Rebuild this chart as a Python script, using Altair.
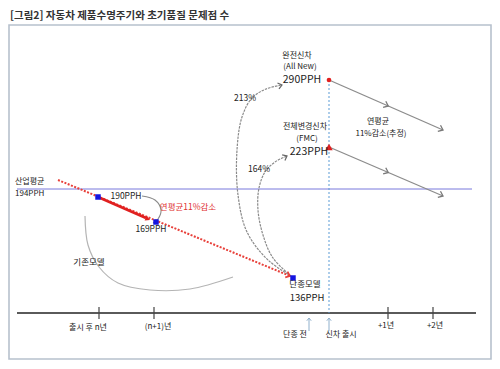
import math
import altair as alt
import pandas as pd

# ---- canvas (chart units equal pixels of the 500x369 reference) ----
W, H = 484, 350
X0, Y0 = 8, 8
FONT = "Noto Sans CJK KR"

TITLE = "[그림2] 자동차 제품수명주기와 초기품질 문제점 수"

FRAME_X = [9, 491]
FRAME_Y = [25, 359]

AXIS_X = [17, 476]
AXIS_Y = 313
TICK_X = [99, 154, 388, 433]
TICK_Y = [307, 319]

AVG_X = [17, 472]
AVG_Y = 189

LAUNCH_X = 329
LAUNCH_Y = [80, 313]

TREND_X = [58, 290]
TREND_Y = [180, 276]

DROP_X = [98, 150]
DROP_Y = [197, 220]

SQUARE_X = [98, 156, 293]
SQUARE_Y = [197, 222, 278]

ALLNEW_PT = (329, 80)
FMC_PT = (329, 147)

PROJ1_X = [329, 443]
PROJ1_Y = [80, 130]
PROJ2_X = [329, 443]
PROJ2_Y = [147, 196]

UPARROW_X = [309, 329]
UPARROW_Y = [331, 318]

# curves
ARC213_X = [291, 268, 247, 238, 237, 242, 252, 266, 282]
ARC213_Y = [276, 260, 232, 195, 150, 117, 98, 89, 85]
ARC164_X = [291, 273, 263, 258, 259, 265, 275, 287]
ARC164_Y = [276, 258, 235, 210, 188, 172, 162, 156]
OLD_X = [85, 88, 99, 118, 150, 190, 233]
OLD_Y = [216, 245, 267, 283, 290, 289, 277]
LOOP_X = [142, 155, 161, 158, 153]
LOOP_Y = [196, 200, 210, 219, 223]

# labels
LBL_TEXT = ["산업평균", "194PPH", "190PPH", "169PPH", "기존모델", "단종모델", "136PPH",
            "완전신차", "(All New)", "290PPH", "전체변경신차", "(FMC)", "223PPH",
            "213%", "164%", "연평균", "11%감소(추정)",
            "출시 후 n년", "(n+1)년", "단종 전", "신차 출시", "+1년", "+2년"]
LBL_X = [15, 15, 126, 151, 89, 305, 307,
         297, 300, 302, 305, 307, 309,
         245, 259, 378, 381,
         88, 158, 295, 341, 386, 435]
LBL_Y = [182, 194, 196, 229, 262, 284, 298,
         56, 67, 80, 127, 139, 152,
         98, 169, 122, 134,
         328, 327, 335, 335, 326, 326]
LBL_SIZE = [8, 8, 8.5, 8.5, 8.5, 8.5, 9.5,
            8, 8, 10.5, 8, 8, 10.5,
            8.5, 8.5, 8, 8,
            8, 8, 8, 8, 8, 8]
LBL_ALIGN = ["left", "left"] + ["center"] * 21

RED_TEXT = "연평균11%감소"
RED_TEXT_XY = (188, 207)

# ---- helpers ----
xs = alt.Scale(domain=[X0, X0 + W], nice=False, zero=False)
ys = alt.Scale(domain=[Y0, Y0 + H], reverse=True, nice=False, zero=False)
X = lambda f="x": alt.X(f"{f}:Q", scale=xs, axis=None)
Y = lambda f="y": alt.Y(f"{f}:Q", scale=ys, axis=None)


def rules(rows, **kw):
    df = pd.DataFrame(rows, columns=["x", "y", "x2", "y2"])
    return alt.Chart(df).mark_rule(**kw).encode(
        x=X(), y=Y(), x2="x2:Q", y2="y2:Q")


def ang(x1, y1, x2, y2):
    return math.degrees(math.atan2(y2 - y1, x2 - x1)) % 360


CHEV = "M -1 -0.8 L 0 0 L -1 0.8"
TRI = "M 0 0 L -1 -0.55 L -1 0.55 Z"


def heads(rows, shape, filled, color, size, sw=1.2):
    df = pd.DataFrame(rows, columns=["x", "y", "a"])
    return alt.Chart(df).mark_point(
        shape=shape, filled=filled, color=color, size=size,
        strokeWidth=sw, opacity=1).encode(
        x=X(), y=Y(), angle=alt.Angle("a:Q", scale=None))


def curve(xv, yv, **kw):
    df = pd.DataFrame({"x": xv, "y": yv, "i": range(len(xv))})
    return alt.Chart(df).mark_line(interpolate="catmull-rom", **kw).encode(
        x=X(), y=Y(), order="i:Q")


layers = []

# frame
layers.append(alt.Chart(pd.DataFrame({"x": [FRAME_X[0]], "x2": [FRAME_X[1]],
                                      "y": [FRAME_Y[0]], "y2": [FRAME_Y[1]]}))
              .mark_rect(fill="white", stroke="#b7c1cd", strokeWidth=1.6)
              .encode(x=X(), x2="x2:Q", y=Y(), y2="y2:Q"))

# title
layers.append(alt.Chart(pd.DataFrame({"x": [X0 + 2], "y": [16], "t": [TITLE]}))
              .mark_text(align="left", baseline="middle", font=FONT, fontSize=10.5,
                         fontWeight="bold", color="#333333")
              .encode(x=X(), y=Y(), text="t:N"))

# time axis
layers.append(rules([(AXIS_X[0], AXIS_Y, AXIS_X[1], AXIS_Y)], color="#5a5a5a", strokeWidth=1.8))
layers.append(rules([(t, TICK_Y[0], t, TICK_Y[1]) for t in TICK_X], color="#444444", strokeWidth=1.2))

# industry average
layers.append(rules([(AVG_X[0], AVG_Y, AVG_X[1], AVG_Y)], color="#7878dc", strokeWidth=1))

# launch dashed line
layers.append(rules([(LAUNCH_X, LAUNCH_Y[0], LAUNCH_X, LAUNCH_Y[1])], color="#5b9bd5",
                    strokeWidth=1, strokeDash=[2, 2]))

# up arrows under axis
layers.append(rules([(ux, UPARROW_Y[0], ux, UPARROW_Y[1]) for ux in UPARROW_X],
                    color="#8fb0cc", strokeWidth=1))
layers.append(heads([(ux, UPARROW_Y[1], 270) for ux in UPARROW_X], CHEV, False, "#8fb0cc", 30, 1))

# projection arrows
for px, py in [(PROJ1_X, PROJ1_Y), (PROJ2_X, PROJ2_Y)]:
    layers.append(rules([(px[0], py[0], px[1], py[1])], color="#8c8c8c", strokeWidth=1.3))
    a = ang(px[0], py[0], px[1], py[1])
    mx = px[0] + (px[1] - px[0]) * 0.52
    my = py[0] + (py[1] - py[0]) * 0.52
    layers.append(heads([(mx, my, a), (px[1], py[1], a)], CHEV, False, "#7a7a7a", 70, 1.3))

# curves
layers.append(curve(OLD_X, OLD_Y, color="#b4b4b4", strokeWidth=1.2))
layers.append(curve(LOOP_X, LOOP_Y, color="#8a8a8a", strokeWidth=1.1))
layers.append(curve(ARC213_X, ARC213_Y, color="#8a8a8a", strokeWidth=1.2, strokeDash=[2.5, 1]))
layers.append(curve(ARC164_X, ARC164_Y, color="#8a8a8a", strokeWidth=1.2, strokeDash=[2.5, 1]))
layers.append(heads([
    (ARC213_X[-1], ARC213_Y[-1], ang(ARC213_X[-2], ARC213_Y[-2], ARC213_X[-1], ARC213_Y[-1])),
    (ARC164_X[-1], ARC164_Y[-1], ang(ARC164_X[-2], ARC164_Y[-2], ARC164_X[-1], ARC164_Y[-1])),
], CHEV, False, "#666666", 60, 1.2))

# red dotted trend
layers.append(rules([(TREND_X[0], TREND_Y[0], TREND_X[1], TREND_Y[1])], color="#e8403a",
                    strokeWidth=2, strokeDash=[2, 1.5]))
layers.append(heads([(TREND_X[1], TREND_Y[1], ang(TREND_X[0], TREND_Y[0], TREND_X[1], TREND_Y[1]))],
                    CHEV, False, "#e8403a", 60, 1.6))

# solid red arrow
layers.append(rules([(DROP_X[0], DROP_Y[0], DROP_X[1] - 4, DROP_Y[1] - 2)], color="#e02020", strokeWidth=2.6))
layers.append(heads([(DROP_X[1], DROP_Y[1], ang(DROP_X[0], DROP_Y[0], DROP_X[1], DROP_Y[1]))],
                    TRI, True, "#e02020", 90))

# blue squares
layers.append(alt.Chart(pd.DataFrame({"x": SQUARE_X, "y": SQUARE_Y}))
              .mark_square(color="#1414e0", size=30, opacity=1).encode(x=X(), y=Y()))

# new car markers
layers.append(alt.Chart(pd.DataFrame({"x": [ALLNEW_PT[0]], "y": [ALLNEW_PT[1]]}))
              .mark_circle(color="#e02020", size=22, opacity=1).encode(x=X(), y=Y()))
layers.append(alt.Chart(pd.DataFrame({"x": [FMC_PT[0]], "y": [FMC_PT[1]]}))
              .mark_point(shape="triangle-up", filled=True, color="#e02020", size=55, opacity=1)
              .encode(x=X(), y=Y()))

# labels
lbl = pd.DataFrame({"t": LBL_TEXT, "x": LBL_X, "y": LBL_Y, "s": LBL_SIZE, "al": LBL_ALIGN})
for al in ["left", "center"]:
    sub = lbl[lbl.al == al]
    layers.append(alt.Chart(sub).mark_text(align=al, baseline="middle", font=FONT, color="#222222")
                  .encode(x=X(), y=Y(), text="t:N", size=alt.Size("s:Q", scale=None)))

layers.append(alt.Chart(pd.DataFrame({"x": [RED_TEXT_XY[0]], "y": [RED_TEXT_XY[1]], "t": [RED_TEXT]}))
              .mark_text(align="center", baseline="middle", font=FONT, fontSize=8.5, color="#e03030")
              .encode(x=X(), y=Y(), text="t:N"))

chart = alt.layer(*layers).properties(width=W, height=H, padding=0, background="white") \
    .configure_view(strokeWidth=0)

chart.save("out.html", embed_options={"renderer": "svg", "actions": False})
